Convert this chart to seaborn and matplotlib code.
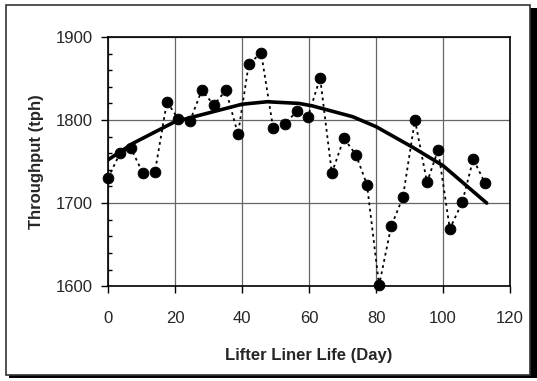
import matplotlib
matplotlib.use("Agg")
import matplotlib.pyplot as plt
from matplotlib.patches import Rectangle
from matplotlib.ticker import MultipleLocator
import seaborn as sns
import pandas as pd

# Observed throughput
days = [0, 3.6, 6.9, 10.4, 14.0, 17.6, 21.0, 24.5, 28.0, 31.6, 35.2, 38.8, 42.0,
        45.7, 49.3, 52.8, 56.4, 59.7, 63.3, 66.8, 70.4, 74.0, 77.3, 80.9, 84.5,
        88.0, 91.6, 95.2, 98.5, 102.0, 105.7, 109.0, 112.5]
throughput = [1730, 1760, 1766, 1736, 1737, 1822, 1801, 1799, 1836, 1818, 1836,
              1783, 1867, 1881, 1790, 1795, 1811, 1804, 1851, 1736, 1778, 1758,
              1722, 1601, 1672, 1707, 1800, 1725, 1764, 1669, 1701, 1753, 1724]

# Trend line
trend_days = [0, 7.5, 20, 40, 47.5, 57, 61, 73, 80, 91, 100, 113]
trend_vals = [1752, 1772, 1798, 1819, 1822, 1820, 1817, 1804, 1792, 1767, 1745, 1700]

xticks = [0, 20, 40, 60, 80, 100, 120]
yticks = [1600, 1700, 1800, 1900]

sns.set_theme(style="white")
plt.rcParams['font.family'] = ['Liberation Sans', 'DejaVu Sans']

fig = plt.figure(figsize=(5.37, 3.81), dpi=100)
ax = fig.add_axes([0.201, 0.249, 0.749, 0.654])
ax.set_zorder(5)

obs = pd.DataFrame({"day": days, "tph": throughput})
trend = pd.DataFrame({"day": trend_days, "tph": trend_vals})

sns.lineplot(data=obs, x="day", y="tph", ax=ax, color="black", lw=1.3,
             linestyle=(0, (1.5, 2)), zorder=3)
sns.scatterplot(data=obs, x="day", y="tph", ax=ax, color="black", s=60,
                edgecolor="black", zorder=5, clip_on=False)
sns.lineplot(data=trend, x="day", y="tph", ax=ax, color="black", lw=2.6, zorder=4)

ax.set_xlim(0, 120)
ax.set_ylim(1600, 1900)
ax.set_xticks(xticks)
ax.set_yticks(yticks)
ax.yaxis.set_minor_locator(MultipleLocator(20))
ax.grid(True, which="major", color="#666666", lw=0.9)
ax.set_axisbelow(True)
for s in ax.spines.values():
    s.set_color("black")
    s.set_linewidth(1.2)
ax.tick_params(axis="both", which="major", direction="out", length=5, width=1,
               color="black", labelsize=12, left=True, bottom=True)
ax.tick_params(axis="x", which="major", pad=13)
ax.tick_params(axis="y", which="major", pad=6)
ax.tick_params(axis="y", which="minor", direction="in", length=3, width=1,
               color="black", left=True)
ax.set_xlabel("Lifter Liner Life (Day)", fontsize=12, fontweight="bold", labelpad=16)
ax.set_ylabel("Throughput (tph)", fontsize=12, fontweight="bold", labelpad=8)

# outer border with shadow
fig.patches.append(Rectangle((9 / 537, 3 / 381), 528 / 537, 370 / 381,
                             transform=fig.transFigure, facecolor="black",
                             edgecolor="none", zorder=0))
fig.patches.append(Rectangle((6 / 537, 6 / 381), 524 / 537, 370 / 381,
                             transform=fig.transFigure, facecolor="white",
                             edgecolor="#333333", lw=1.2, zorder=1))

fig.savefig("out.png", dpi=100)
